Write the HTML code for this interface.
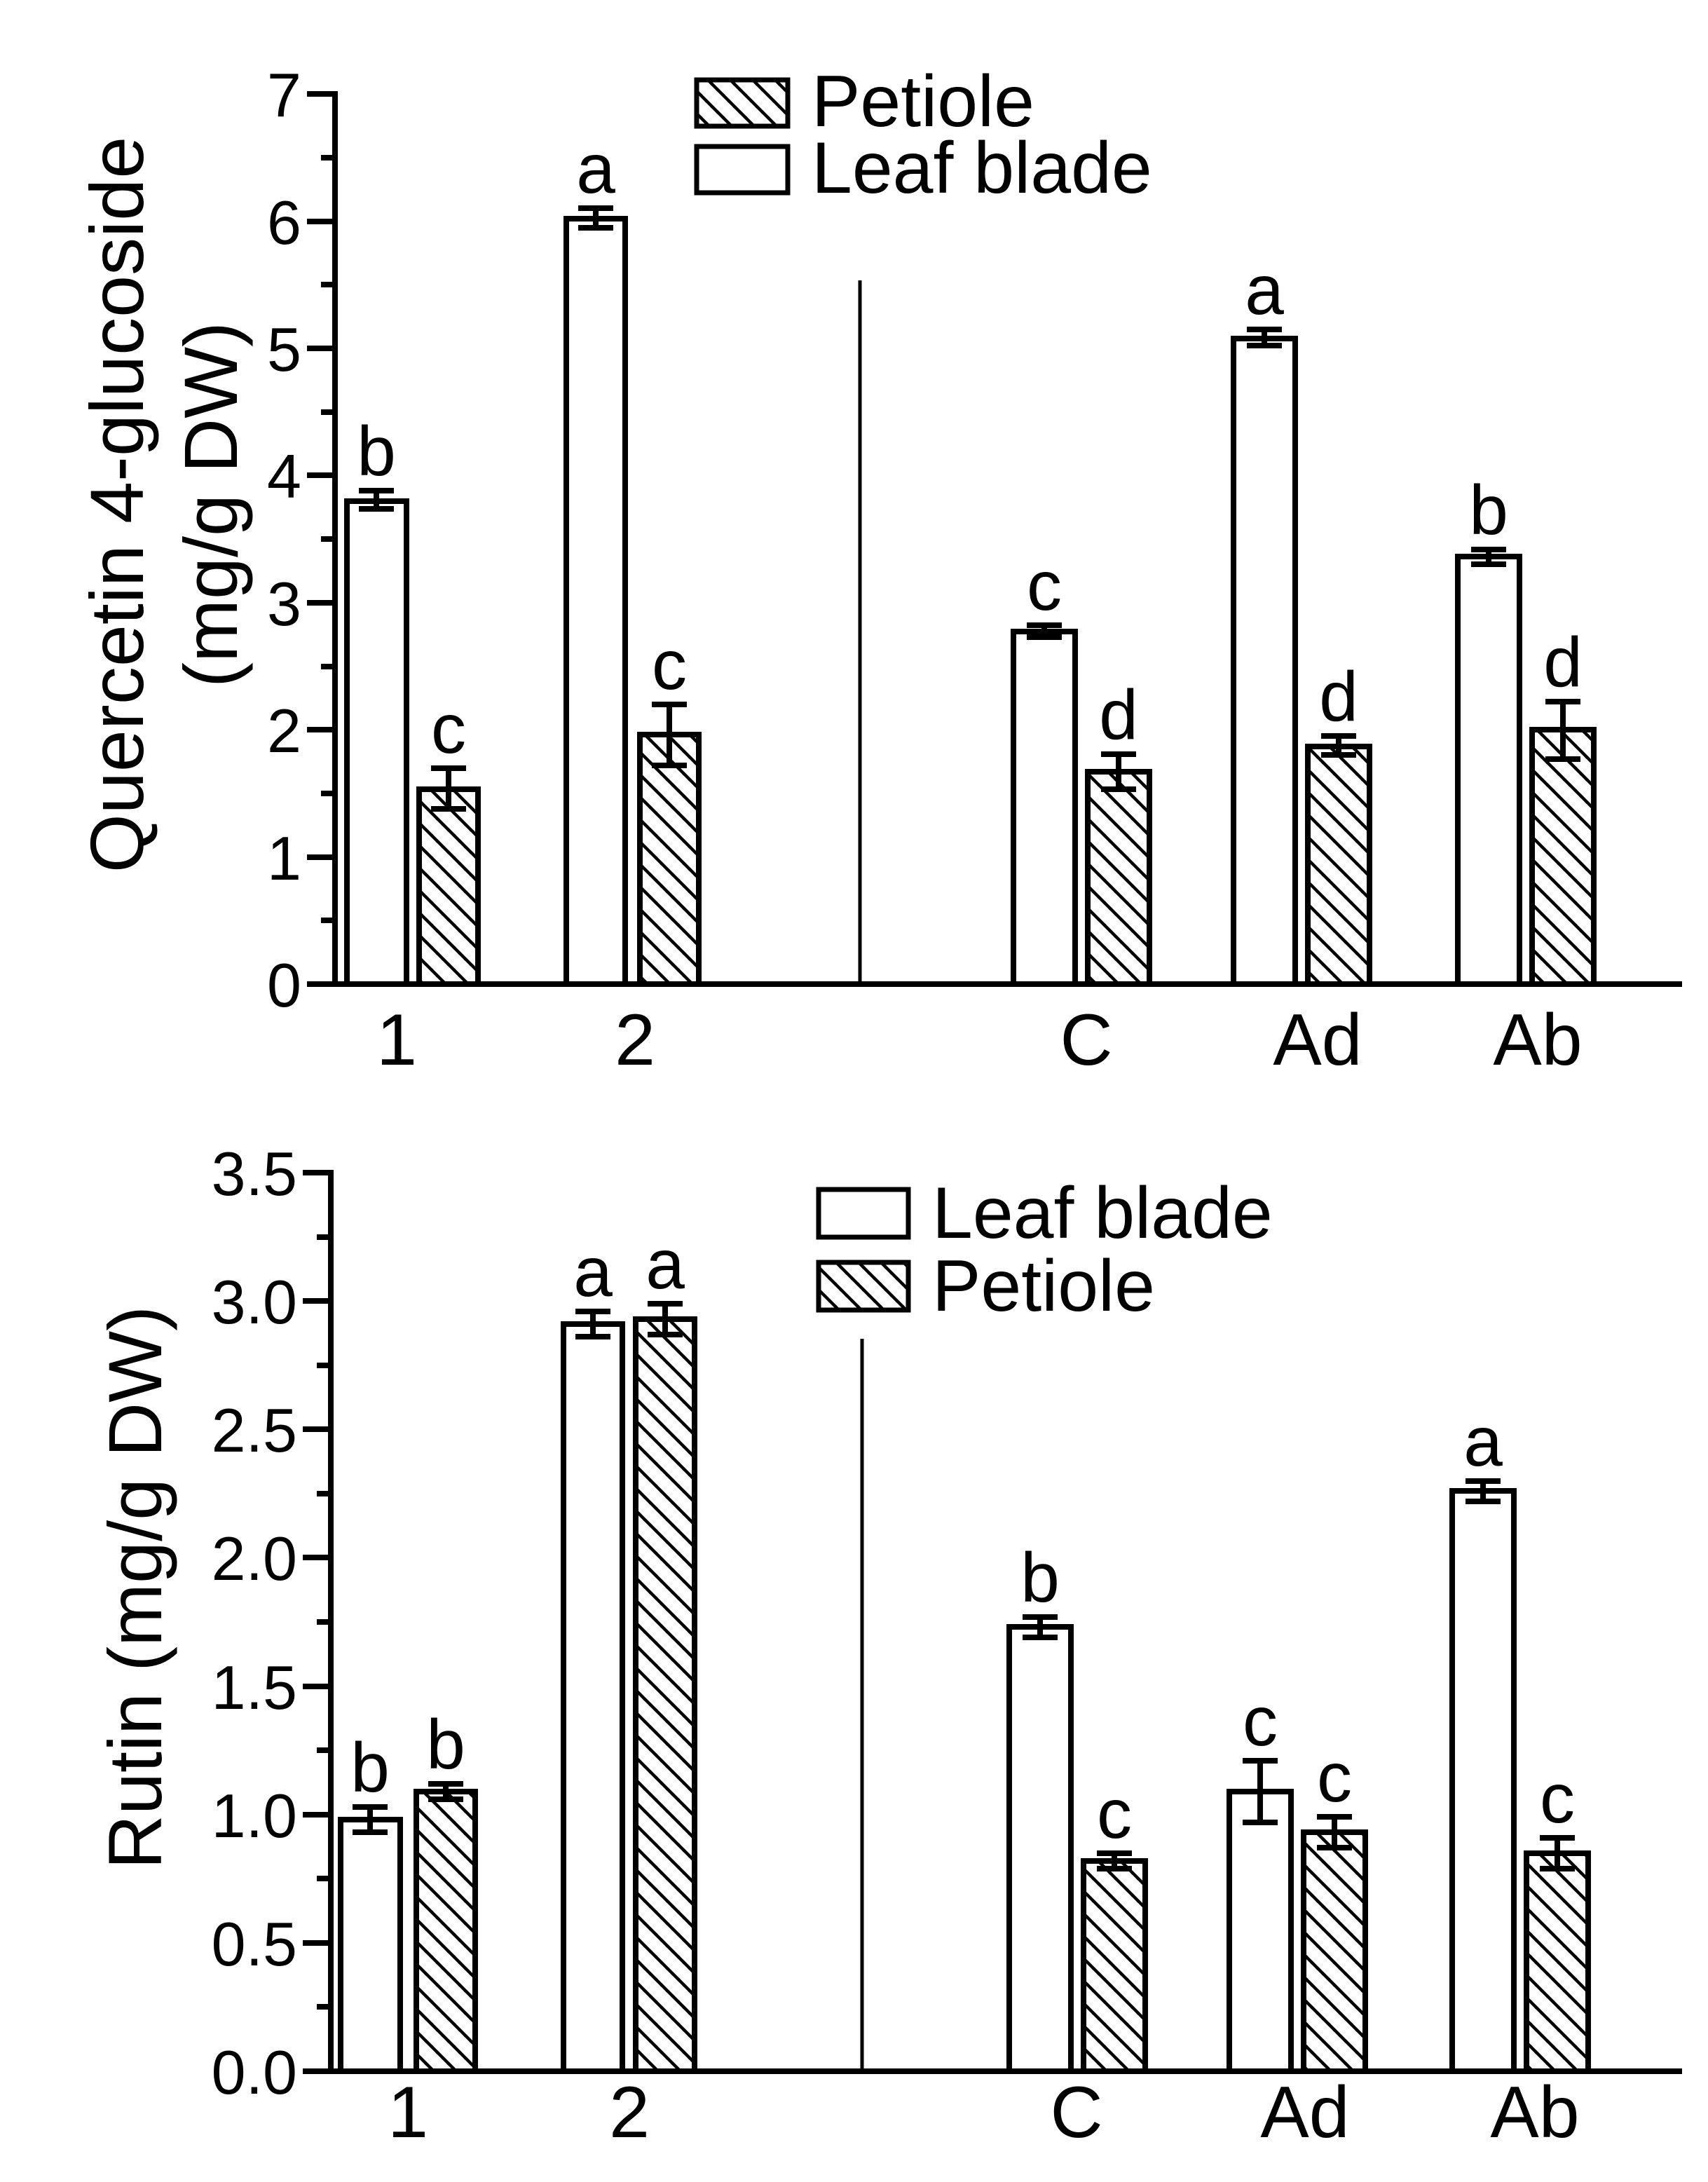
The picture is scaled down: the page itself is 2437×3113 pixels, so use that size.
<!DOCTYPE html>
<html><head><meta charset="utf-8"><style>
html,body{margin:0;padding:0;background:#fff}
svg{display:block}
text{font-family:"Liberation Sans",Arial,sans-serif;fill:#000}
</style></head><body>
<svg width="2437" height="3113" viewBox="0 0 2437 3113" xmlns="http://www.w3.org/2000/svg">
<defs>
<pattern id="h" patternUnits="userSpaceOnUse" width="32" height="32">
<path d="M-4 -4L36 36M-36 -4L4 36M28 -4L68 36" stroke="#000" stroke-width="4.5"/>
</pattern>
</defs>
<g stroke="#000" stroke-width="8" fill="none">
<line x1="478" y1="130" x2="478" y2="1408"/>
<line x1="438" y1="1404" x2="2400" y2="1404"/>
<line x1="438" y1="134" x2="478" y2="134"/><line x1="458" y1="225" x2="478" y2="225"/>
<line x1="438" y1="316" x2="478" y2="316"/><line x1="458" y1="406" x2="478" y2="406"/>
<line x1="438" y1="497" x2="478" y2="497"/><line x1="458" y1="588" x2="478" y2="588"/>
<line x1="438" y1="678" x2="478" y2="678"/><line x1="458" y1="769" x2="478" y2="769"/>
<line x1="438" y1="860" x2="478" y2="860"/><line x1="458" y1="951" x2="478" y2="951"/>
<line x1="438" y1="1041" x2="478" y2="1041"/><line x1="458" y1="1132" x2="478" y2="1132"/>
<line x1="438" y1="1223" x2="478" y2="1223"/><line x1="458" y1="1313" x2="478" y2="1313"/>
<line x1="1227" y1="400" x2="1227" y2="1404" stroke-width="5"/>
<rect x="495" y="715" width="85" height="689" fill="#fff"/>
<rect x="598" y="1126" width="84" height="278" fill="url(#h)"/>
<rect x="808" y="312" width="84" height="1092" fill="#fff"/>
<rect x="913" y="1048" width="84" height="356" fill="url(#h)"/>
<rect x="1446" y="901" width="88" height="503" fill="#fff"/>
<rect x="1552" y="1101" width="88" height="303" fill="url(#h)"/>
<rect x="1760" y="483" width="88" height="921" fill="#fff"/>
<rect x="1866" y="1065" width="88" height="339" fill="url(#h)"/>
<rect x="2080" y="794" width="88" height="610" fill="#fff"/>
<rect x="2186" y="1041" width="88" height="363" fill="url(#h)"/>
<path d="M537 726V700M512 726H562M512 700H562"/>
<path d="M640 1154V1096M615 1154H665M615 1096H665"/>
<path d="M850 325V297M825 325H875M825 297H875"/>
<path d="M955 1092V1005M930 1092H980M930 1005H980"/>
<path d="M1490 909V892M1465 909H1515M1465 892H1515"/>
<path d="M1596 1126V1076M1571 1126H1621M1571 1076H1621"/>
<path d="M1804 493V470M1779 493H1829M1779 470H1829"/>
<path d="M1910 1077V1050M1885 1077H1935M1885 1050H1935"/>
<path d="M2124 805V784M2099 805H2149M2099 784H2149"/>
<path d="M2230 1083V1001M2205 1083H2255M2205 1001H2255"/>
<rect x="994" y="114" width="130" height="66" fill="url(#h)" stroke-width="7"/>
<rect x="994" y="209" width="130" height="66" fill="#fff" stroke-width="7"/>

<line x1="472" y1="1669" x2="472" y2="2959"/>
<line x1="432" y1="2955" x2="2400" y2="2955"/>
<line x1="432" y1="1673" x2="472" y2="1673"/><line x1="452" y1="1765" x2="472" y2="1765"/>
<line x1="432" y1="1856" x2="472" y2="1856"/><line x1="452" y1="1948" x2="472" y2="1948"/>
<line x1="432" y1="2039" x2="472" y2="2039"/><line x1="452" y1="2131" x2="472" y2="2131"/>
<line x1="432" y1="2222" x2="472" y2="2222"/><line x1="452" y1="2314" x2="472" y2="2314"/>
<line x1="432" y1="2406" x2="472" y2="2406"/><line x1="452" y1="2497" x2="472" y2="2497"/>
<line x1="432" y1="2589" x2="472" y2="2589"/><line x1="452" y1="2680" x2="472" y2="2680"/>
<line x1="432" y1="2772" x2="472" y2="2772"/><line x1="452" y1="2863" x2="472" y2="2863"/>
<line x1="1230" y1="1910" x2="1230" y2="2955" stroke-width="5"/>
<rect x="486" y="2596" width="85" height="359" fill="#fff"/>
<rect x="594" y="2556" width="84" height="399" fill="url(#h)"/>
<rect x="804" y="1889" width="84" height="1066" fill="#fff"/>
<rect x="907" y="1882" width="84" height="1073" fill="url(#h)"/>
<rect x="1440" y="2321" width="88" height="634" fill="#fff"/>
<rect x="1546" y="2655" width="88" height="300" fill="url(#h)"/>
<rect x="1754" y="2556" width="88" height="399" fill="#fff"/>
<rect x="1860" y="2614" width="88" height="341" fill="url(#h)"/>
<rect x="2072" y="2127" width="88" height="828" fill="#fff"/>
<rect x="2178" y="2644" width="88" height="311" fill="url(#h)"/>
<path d="M528 2614V2578M503 2614H553M503 2578H553"/>
<path d="M636 2567V2545M611 2567H661M611 2545H661"/>
<path d="M846 1907V1871M821 1907H871M821 1871H871"/>
<path d="M949 1904V1860M924 1904H974M924 1860H974"/>
<path d="M1484 2336V2307M1459 2336H1509M1459 2307H1509"/>
<path d="M1590 2666V2644M1565 2666H1615M1565 2644H1615"/>
<path d="M1798 2600V2512M1773 2600H1823M1773 2512H1823"/>
<path d="M1904 2636V2592M1879 2636H1929M1879 2592H1929"/>
<path d="M2116 2142V2113M2091 2142H2141M2091 2113H2141"/>
<path d="M2222 2666V2622M2197 2666H2247M2197 2622H2247"/>
<rect x="1168" y="1697" width="128" height="68" fill="#fff" stroke-width="7"/>
<rect x="1168" y="1801" width="128" height="68" fill="url(#h)" stroke-width="7"/>
</g>

<g font-size="88" text-anchor="end">
<text x="430" y="166">7</text><text x="430" y="348">6</text><text x="430" y="529">5</text>
<text x="430" y="710">4</text><text x="430" y="892">3</text><text x="430" y="1073">2</text>
<text x="430" y="1255">1</text><text x="430" y="1436">0</text>
</g>
<g font-size="104" text-anchor="middle">
<text x="566" y="1519">1</text><text x="906" y="1519">2</text><text x="1550" y="1519">C</text>
<text x="1880" y="1519">Ad</text><text x="2194" y="1519">Ab</text>
</g>
<g font-size="100" text-anchor="middle">
<text x="537" y="678">b</text><text x="640" y="1074">c</text><text x="850" y="275">a</text>
<text x="955" y="983">c</text><text x="1490" y="870">c</text><text x="1596" y="1054">d</text>
<text x="1804" y="448">a</text><text x="1910" y="1028">d</text><text x="2124" y="762">b</text>
<text x="2230" y="979">d</text>
</g>
<text x="1158" y="180" font-size="104">Petiole</text>
<text x="1158" y="275" font-size="104">Leaf blade</text>
<text transform="translate(204,720) rotate(-90)" font-size="108" text-anchor="middle">Quercetin 4-glucoside</text>
<text transform="translate(338,720) rotate(-90)" font-size="108" text-anchor="middle">(mg/g DW)</text>

<g font-size="88" text-anchor="end">
<text x="424" y="1705">3.5</text><text x="424" y="1888">3.0</text><text x="424" y="2071">2.5</text>
<text x="424" y="2254">2.0</text><text x="424" y="2438">1.5</text><text x="424" y="2621">1.0</text>
<text x="424" y="2804">0.5</text><text x="424" y="2987">0.0</text>
</g>
<g font-size="104" text-anchor="middle">
<text x="582" y="3049">1</text><text x="898" y="3049">2</text><text x="1536" y="3049">C</text>
<text x="1862" y="3049">Ad</text><text x="2190" y="3049">Ab</text>
</g>
<g font-size="100" text-anchor="middle">
<text x="528" y="2556">b</text><text x="636" y="2523">b</text><text x="846" y="1849">a</text>
<text x="949" y="1838">a</text><text x="1484" y="2285">b</text><text x="1590" y="2622">c</text>
<text x="1798" y="2490">c</text><text x="1904" y="2570">c</text><text x="2116" y="2091">a</text>
<text x="2222" y="2600">c</text>
</g>
<text x="1330" y="1766" font-size="104">Leaf blade</text>
<text x="1330" y="1870" font-size="104">Petiole</text>
<text transform="translate(230,2265) rotate(-90)" font-size="108" text-anchor="middle">Rutin (mg/g DW)</text>
</svg>
</body></html>
